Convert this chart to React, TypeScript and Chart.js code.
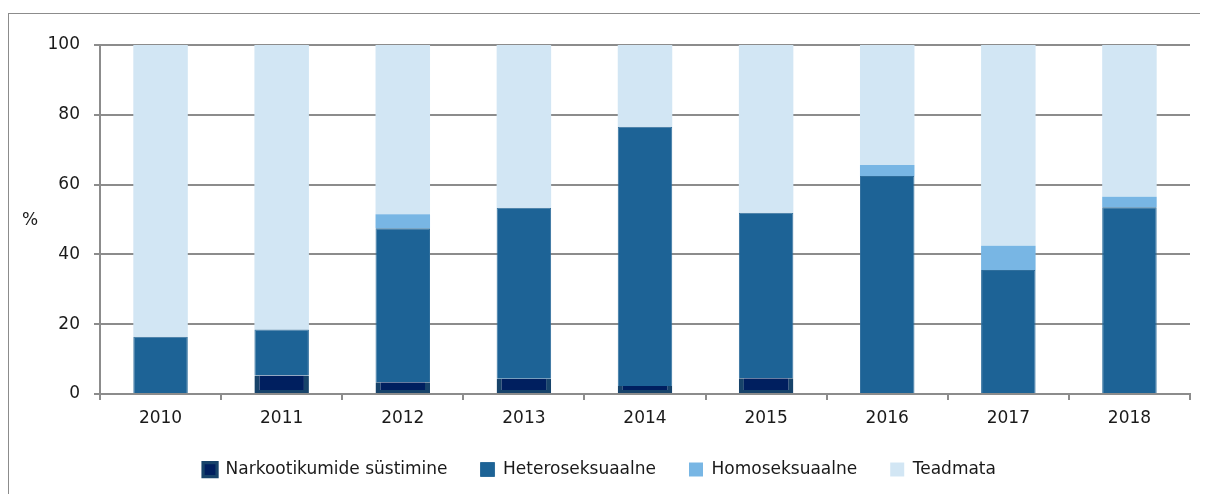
import React, { useEffect, useLayoutEffect, useRef } from "react";
import { Chart, registerables } from "chart.js";

Chart.register(...registerables);

const categories = ["2010", "2011", "2012", "2013", "2014", "2015", "2016", "2017", "2018"];
const narkootikumid = [0, 5.3, 3.4, 4.4, 2.3, 4.5, 0, 0, 0];
const heteroseksuaalne = [16.4, 13.2, 44.1, 49.0, 74.3, 47.4, 62.5, 35.5, 53.5];
const homoseksuaalne = [0, 0, 4.0, 0, 0, 0, 3.1, 7.0, 3.0];
const teadmata = [83.6, 81.5, 48.5, 46.6, 23.4, 48.1, 34.4, 57.5, 43.5];
const yTicks = [0, 20, 40, 60, 80, 100];
const seriesNames = ["Narkootikumide süstimine", "Heteroseksuaalne", "Homoseksuaalne", "Teadmata"];
const yUnit = "%";

const FONT = "'DejaVu Sans', sans-serif";
const GRID = "#8c8c8c";

export default function App() {
  const ref = useRef<HTMLCanvasElement | null>(null);

  useLayoutEffect(() => {
    document.documentElement.style.overflow = "hidden";
    document.body.style.overflow = "hidden";
  }, []);

  useEffect(() => {
    const canvas = ref.current;
    if (!canvas) return;

    const unitLabel = {
      id: "unitLabel",
      afterDraw(chart: any) {
        const ctx = chart.ctx;
        ctx.save();
        ctx.font = `17px ${FONT}`;
        ctx.fillStyle = "#1a1a1a";
        ctx.textAlign = "center";
        ctx.textBaseline = "middle";
        ctx.fillText(yUnit, 21, 207);
        ctx.restore();
      },
    };

    const common = { barPercentage: 0.45, categoryPercentage: 1.0 };

    const chart = new Chart(canvas, {
      type: "bar",
      data: {
        labels: categories,
        datasets: [
          {
            label: seriesNames[0],
            data: narkootikumid,
            backgroundColor: "#001f5f",
            borderColor: "#17436a",
            borderWidth: { left: 5, right: 5, top: 0, bottom: 3 },
            borderSkipped: false,
            ...common,
          },
          {
            label: seriesNames[1],
            data: heteroseksuaalne,
            backgroundColor: "#1d6396",
            borderColor: "#2f6e9c",
            borderWidth: 1,
            ...common,
          },
          {
            label: seriesNames[2],
            data: homoseksuaalne,
            backgroundColor: "#78b6e4",
            borderColor: "#78b6e4",
            borderWidth: 0,
            ...common,
          },
          {
            label: seriesNames[3],
            data: teadmata,
            backgroundColor: "#d2e6f4",
            borderColor: "#d2e6f4",
            borderWidth: 0,
            ...common,
          },
        ] as any,
      },
      options: {
        animation: false,
        responsive: true,
        maintainAspectRatio: false,
        layout: { padding: { top: 31, right: 18, left: 0, bottom: 11 } },
        plugins: {
          tooltip: { enabled: false },
          legend: {
            position: "bottom",
            labels: {
              font: { family: FONT, size: 17 },
              color: "#1a1a1a",
              boxWidth: 14,
              boxHeight: 14,
              padding: 33,
            },
          },
        },
        scales: {
          x: {
            stacked: true,
            grid: {
              display: true,
              drawOnChartArea: false,
              drawTicks: true,
              tickLength: 6,
              offset: true,
              color: GRID,
              lineWidth: 2,
            },
            border: { display: true, color: GRID, width: 2 },
            ticks: {
              font: { family: FONT, size: 17 },
              color: "#1a1a1a",
              padding: 8,
              maxRotation: 0,
            },
            afterFit(scale: any) {
              scale.height = 34;
            },
          },
          y: {
            stacked: true,
            min: 0,
            max: 100,
            afterBuildTicks(scale: any) {
              scale.ticks = yTicks.map((v) => ({ value: v }));
            },
            grid: {
              color: GRID,
              lineWidth: 2,
              drawTicks: true,
              tickLength: 6,
            },
            border: { display: true, color: GRID, width: 2 },
            ticks: {
              font: { family: FONT, size: 17 },
              color: "#1a1a1a",
              padding: 14,
            },
            afterFit(scale: any) {
              scale.width = 91;
            },
          },
        },
      },
      plugins: [unitLabel],
    });

    return () => chart.destroy();
  }, []);

  return (
    <div
      style={{
        position: "relative",
        top: 5,
        width: 1210,
        height: 486,
        borderTop: `1px solid ${GRID}`,
        borderLeft: `1px solid ${GRID}`,
        boxSizing: "border-box",
      }}
    >
      <div style={{ width: 1199, height: 485, position: "relative" }}>
        <canvas ref={ref} />
      </div>
    </div>
  );
}
